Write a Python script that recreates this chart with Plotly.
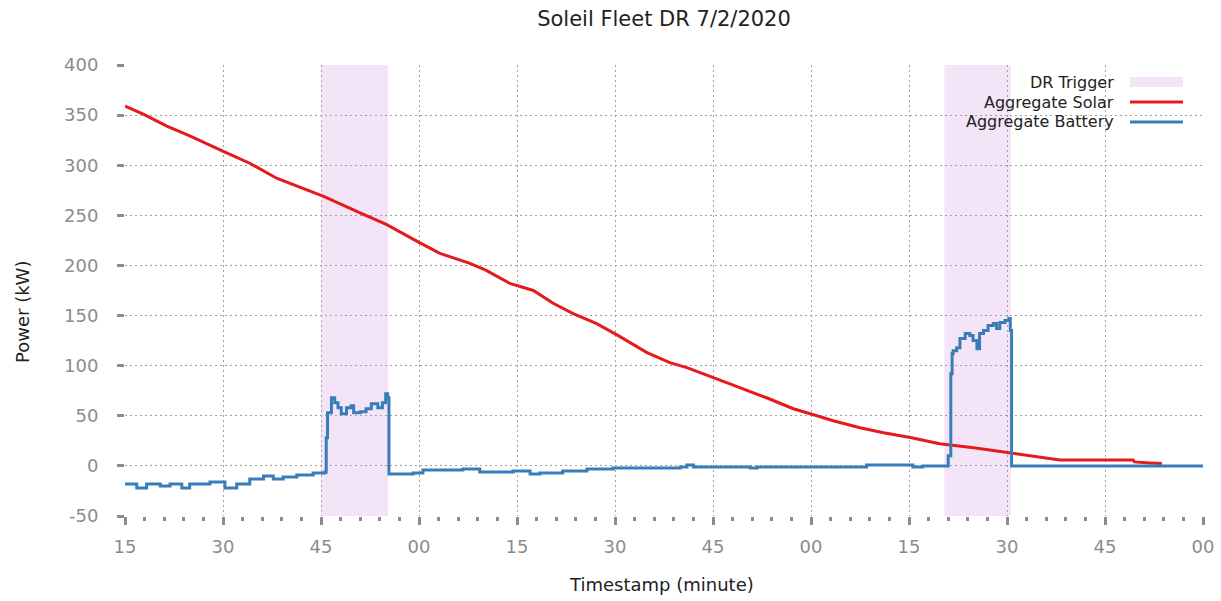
import plotly.graph_objects as go

DAY = "2020-07-02 "

# DR trigger windows (start, end)
dr_start = ["15:45:00", "17:20:25"]
dr_end = ["15:55:15", "17:30:35"]

# Aggregate Solar (kW)
solar_time = ["15:15:00", "15:17:48", "15:21:24", "15:25:00", "15:30:18", "15:34:06",
              "15:38:12", "15:43:18", "15:45:24", "15:51:30", "15:55:00", "16:00:00",
              "16:03:12", "16:07:48", "16:10:18", "16:13:54", "16:17:30", "16:20:36",
              "16:23:36", "16:27:12", "16:30:30", "16:34:54", "16:38:24", "16:41:00",
              "16:45:18", "16:49:06", "16:53:12", "16:57:18", "17:00:54", "17:03:24",
              "17:07:30", "17:11:06", "17:15:24", "17:19:42", "17:24:54", "17:30:30",
              "17:35:06", "17:38:06", "17:49:18", "17:49:30", "17:51:54", "17:53:42"]
solar_kw = [359, 351, 339, 329, 313, 302,
            287, 274, 269, 251, 241, 223,
            212, 202, 195, 182, 175, 162,
            152, 142, 130, 113, 103, 98,
            87, 78, 68, 57, 50, 45,
            38, 33, 28, 22, 18, 13,
            9, 6, 6, 4, 3, 2.5]

# Aggregate Battery (kW)
battery_time = ["15:15:00", "15:16:48", "15:18:18", "15:20:24", "15:21:54", "15:23:42",
                "15:24:54", "15:28:00", "15:30:18", "15:32:06", "15:34:06", "15:36:12",
                "15:37:42", "15:39:12", "15:41:18", "15:43:48", "15:45:36", "15:45:48",
                "15:46:00", "15:46:36", "15:47:06", "15:47:36", "15:48:06", "15:48:54",
                "15:49:36", "15:50:00", "15:51:00", "15:51:54", "15:52:42", "15:53:42",
                "15:54:24", "15:54:54", "15:55:12", "15:55:24", "15:57:06", "15:59:06",
                "16:00:36", "16:06:42", "16:09:18", "16:14:24", "16:17:00", "16:18:30",
                "16:22:00", "16:25:42", "16:29:42", "16:40:00", "16:41:00", "16:42:00",
                "16:50:42", "16:51:45", "17:08:30", "17:15:36", "17:17:06", "17:21:00",
                "17:21:24", "17:21:36", "17:21:45", "17:22:18", "17:22:48", "17:23:36",
                "17:24:18", "17:24:48", "17:25:24", "17:25:48", "17:26:24", "17:27:06",
                "17:27:54", "17:28:24", "17:28:54", "17:29:42", "17:30:18", "17:30:30",
                "17:30:42", "18:00:00"]
battery_kw = [-18, -22, -18, -20, -18, -22,
              -18, -16, -22, -18, -13, -10,
              -13, -11, -9, -7, -6, 28,
              53, 68, 63, 58, 52, 58,
              60, 53, 54, 57, 62, 58,
              63, 72, 68, -8, -8, -7,
              -4, -3, -6, -5, -8, -7,
              -5, -3, -2, -1, 1, -1,
              -2, -1, 1, -1, 0, 10,
              92, 112, 115, 118, 127, 132,
              130, 125, 117, 132, 135, 140,
              142, 137, 143, 145, 147, 135,
              0, 0]

x_start, x_end = "15:15:00", "18:00:00"
y_ticks = [-50, 0, 50, 100, 150, 200, 250, 300, 350, 400]
y_ticktext = ["-50", "0", "50", "100", "150", "200", "250", "300", "350", "400"]

RED = "#e41a1c"
BLUE = "#377eb8"
SHADE = "#f3e4f8"
GRID = "#a0a0a0"
TICK = "#8c8c8c"
FONT = "DejaVu Sans"

fig = go.Figure()

for s, e in zip(dr_start, dr_end):
    fig.add_vrect(x0=DAY + s, x1=DAY + e, fillcolor=SHADE, opacity=1,
                  line_width=0, layer="below")

fig.add_trace(go.Scatter(x=[DAY + t for t in solar_time], y=solar_kw, mode="lines",
                         name="Aggregate Solar", line=dict(color=RED, width=3)))
fig.add_trace(go.Scatter(x=[DAY + t for t in battery_time], y=battery_kw, mode="lines",
                         name="Aggregate Battery", line=dict(color=BLUE, width=3),
                         line_shape="hv"))

# custom legend (text left of sample, as in the reference)
leg_items = [("DR Trigger", "rect", SHADE), ("Aggregate Solar", "line", RED),
             ("Aggregate Battery", "line", BLUE)]
x0px, x1px, textx = 1130, 1183, 1116
L, T, W, H = 125, 65, 1078, 451
def px(xp):
    return (xp - L) / W
def py(yp):
    return (T + H - yp) / H
for i, (label, kind, col) in enumerate(leg_items):
    yc = 82 + 20 * i
    fig.add_annotation(x=px(textx), y=py(yc), xref="paper", yref="paper", text=label,
                       showarrow=False, xanchor="right", yanchor="middle",
                       font=dict(family=FONT, size=16, color="#222"))
    if kind == "rect":
        fig.add_shape(type="rect", xref="paper", yref="paper", x0=px(x0px), x1=px(x1px),
                      y0=py(yc + 5), y1=py(yc - 5), fillcolor=col, line_width=0)
    else:
        fig.add_shape(type="line", xref="paper", yref="paper", x0=px(x0px), x1=px(x1px),
                      y0=py(yc), y1=py(yc), line=dict(color=col, width=3))

# axis titles
fig.add_annotation(x=px(22), y=py(312), xref="paper", yref="paper", text="Power (kW)",
                   textangle=-90, showarrow=False, xanchor="center", yanchor="middle",
                   font=dict(family=FONT, size=18, color="#222"))
fig.add_annotation(x=px(661), y=py(584), xref="paper", yref="paper",
                   text="Timestamp (minute)", showarrow=False,
                   xanchor="center", yanchor="middle",
                   font=dict(family=FONT, size=18, color="#222"))

fig.update_layout(
    width=1221, height=601,
    margin=dict(l=L, r=1221 - L - W, t=T, b=601 - T - H, autoexpand=False),
    paper_bgcolor="white", plot_bgcolor="white",
    showlegend=False,
    title=dict(text="Soleil Fleet DR 7/2/2020", x=(664) / 1221, xanchor="center",
               y=1 - 11 / 601, yanchor="top",
               font=dict(family=FONT, size=21, color="#222")),
    font=dict(family=FONT),
)
fig.update_xaxes(
    range=[DAY + x_start, DAY + x_end], type="date", automargin=False,
    tick0=DAY + x_start, dtick=15 * 60 * 1000, tickformat="%M",
    showgrid=True, gridcolor=GRID, griddash="2px,3px", gridwidth=1,
    ticks="outside", ticklen=8, tickwidth=3, tickcolor=TICK,
    tickfont=dict(family=FONT, size=18, color=TICK), ticklabelstandoff=6,
    minor=dict(dtick=3 * 60 * 1000, ticks="outside", ticklen=4, tickwidth=3,
               tickcolor=TICK, showgrid=False),
    showline=False, zeroline=False,
)
fig.update_yaxes(
    range=[y_ticks[0], y_ticks[-1]], automargin=False,
    tickmode="array", tickvals=y_ticks, ticktext=y_ticktext,
    showgrid=True, gridcolor=GRID, griddash="2px,3px", gridwidth=1,
    ticks="outside", ticklen=7, tickwidth=3, tickcolor=TICK,
    tickfont=dict(family=FONT, size=18, color=TICK), ticklabelstandoff=15,
    showline=False, zeroline=False,
)

fig.write_html("out.html", config={"displayModeBar": False},
               post_script="document.body.style.margin='0';document.body.style.padding='0';")
